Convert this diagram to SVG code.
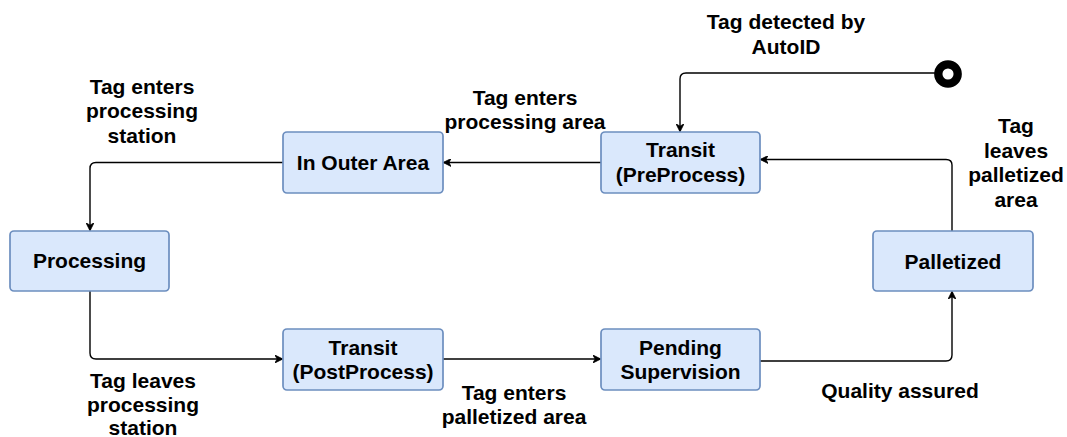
<svg xmlns="http://www.w3.org/2000/svg" width="1067" height="437" viewBox="0 0 1067 437">
<defs>
<style>
.node rect{fill:#dae8fc;stroke:#6c8ebf;stroke-width:1.7}
text{font-family:"Liberation Sans",Arial,Helvetica,sans-serif;font-weight:bold;font-size:21px;fill:#000;text-anchor:middle}
.edge{fill:none;stroke:#000;stroke-width:1.4}
</style>
<marker id="arr" viewBox="0 0 10 10" refX="9" refY="5" markerWidth="8" markerHeight="8" markerUnits="userSpaceOnUse" orient="auto">
<path d="M0,0 L10,5 L0,10 L3,5 Z" fill="#000" stroke="#000" stroke-width="1"/>
</marker>
</defs>
<rect width="1067" height="437" fill="#fff"/>
<g id="connectors">
<path class="edge" d="M935,73 H686 Q680,73 680,79 V131" marker-end="url(#arr)"/>
<path class="edge" d="M601,162.5 H444" marker-end="url(#arr)"/>
<path class="edge" d="M283,162.5 H96 Q90,162.5 90,168.5 V230" marker-end="url(#arr)"/>
<path class="edge" d="M90,291 V353 Q90,359 96,359 H282" marker-end="url(#arr)"/>
<path class="edge" d="M443,359 H600" marker-end="url(#arr)"/>
<path class="edge" d="M760,361 H946 Q952,361 952,355 V292" marker-end="url(#arr)"/>
<path class="edge" d="M952,231 V165 Q952,159.5 946,159.5 H761" marker-end="url(#arr)"/>
</g>
<g id="start">
<circle cx="948" cy="74" r="9.7" fill="#fff" stroke="#000" stroke-width="8.3"/>
</g>
<g id="transit-pre" class="node">
<rect x="601" y="132" width="159" height="61" rx="4"/>
<text x="680.5" y="157">Transit</text>
<text x="680.5" y="181.5">(PreProcess)</text>
</g>
<g id="outer-area" class="node">
<rect x="283" y="132" width="160" height="61" rx="4"/>
<text x="363" y="170">In Outer Area</text>
</g>
<g id="processing" class="node">
<rect x="10" y="231" width="159" height="60" rx="4"/>
<text x="89.5" y="268">Processing</text>
</g>
<g id="transit-post" class="node">
<rect x="283" y="329" width="160" height="61" rx="4"/>
<text x="363" y="355">Transit</text>
<text x="363" y="379">(PostProcess)</text>
</g>
<g id="pending" class="node">
<rect x="601" y="329" width="159" height="61" rx="4"/>
<text x="680.5" y="355">Pending</text>
<text x="680.5" y="379">Supervision</text>
</g>
<g id="palletized" class="node">
<rect x="873" y="231" width="160" height="60" rx="4"/>
<text x="953" y="269">Palletized</text>
</g>
<g id="labels">
<text x="786" y="29">Tag detected by</text>
<text x="786" y="53.5">AutoID</text>
<text x="525" y="105">Tag enters</text>
<text x="525" y="129">processing area</text>
<text x="142" y="93.5">Tag enters</text>
<text x="142" y="118">processing</text>
<text x="142" y="142.5">station</text>
<text x="1016" y="133">Tag</text>
<text x="1016" y="157.5">leaves</text>
<text x="1016" y="182">palletized</text>
<text x="1016" y="206.5">area</text>
<text x="143" y="387.5">Tag leaves</text>
<text x="143" y="411.5">processing</text>
<text x="143" y="435">station</text>
<text x="514" y="399.5">Tag enters</text>
<text x="514" y="424">palletized area</text>
<text x="900" y="397.5">Quality assured</text>
</g>
</svg>
